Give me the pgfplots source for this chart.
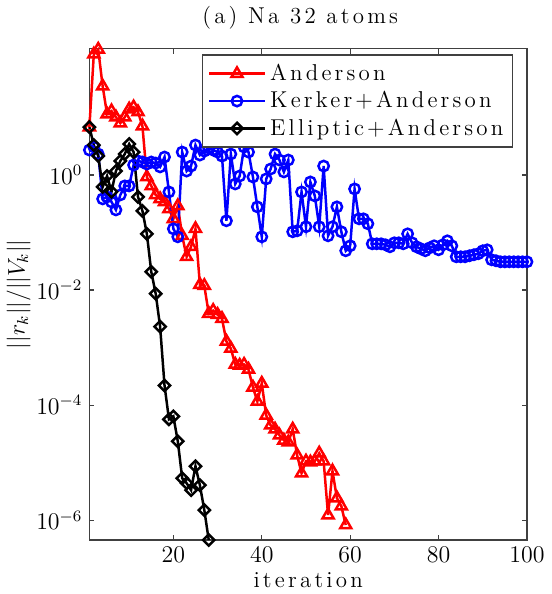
\documentclass[border=0pt]{standalone}
\usepackage{fontspec}
\usepackage{pgfplots}
\pgfplotsset{compat=1.18}
\newfontfamily\lsfont{Latin Modern Roman}[LetterSpace=14]
\newcommand{\ls}{\lsfont}
\newcommand{\fs}{\fontsize{11.5}{13}\selectfont}
\begin{document}
\begin{tikzpicture}
\begin{axis}[
  scale only axis, width=219.5pt, height=246.5pt,
  ymode=log, xmin=1, xmax=100, ymin=4.54e-7, ymax=157,
  xtick={20,40,60,80,100}, ytick={1e-6,1e-4,1e-2,1},
  yminorticks=false,
  tick align=inside, major tick length=2.5pt,
  axis line style={black!75, line width=0.6pt},
  every tick/.style={black!75, line width=0.6pt},
  clip=false,
  tick label style={font=\fs},
  label style={font=\fs},
  xlabel={\ls iteration}, ylabel={$||r_k||/||V_k||$},
  xlabel style={yshift=2pt}, ylabel style={yshift=-4pt},
  title={\ls (a) Na 32 atoms}, title style={font=\fs, xshift=-4pt},
  legend style={at={(0.968,0.988)}, anchor=north east, draw=black!75, line width=0.6pt,
    font=\fs\ls, cells={anchor=west}, row sep=0pt, inner sep=2.5pt},
  legend image code/.code={\draw[mark repeat=2,mark phase=2] plot coordinates {(0pt,0pt)(14pt,0pt)(28pt,0pt)};},
]
\addplot[red, line width=1.25pt, mark=triangle, mark size=3.2pt] coordinates {
(1,6.79)(2,125)(3,152)(4,34.9)(5,11.4)(6,12.9)(7,10.1)(8,7.96)(9,10.1)(10,13.9)
(11,15.1)(12,12.4)(13,7.07)(14,0.92)(15,0.645)(16,0.45)(17,0.384)(18,0.34)(19,0.257)(20,0.173)
(21,0.29)(22,0.0877)(23,0.0379)(24,0.0565)(25,0.116)(26,0.0124)(27,0.0119)(28,0.0039)(29,0.0044)(30,0.00375)
(31,0.00319)(32,0.00128)(33,0.000964)(34,0.000509)(35,0.00049)(36,0.000509)(37,0.000417)(38,0.000204)(39,0.000116)(40,0.000239)
(41,6.65e-5)(42,4.47e-5)(43,3.81e-5)(44,3.0e-5)(45,2.45e-5)(46,2.27e-5)(47,3.81e-5)(48,1.35e-5)(49,6.58e-6)(50,1.06e-5)
(51,1.02e-5)(52,1.06e-5)(53,1.46e-5)(54,1.06e-5)(55,1.23e-6)(56,7.13e-6)(57,2.43e-6)(58,1.76e-6)(59,8.26e-7)
};
\addlegendentry{Anderson}
\addplot[blue, line width=1.25pt, mark=o, mark size=2.6pt] coordinates {
(1,2.71)(2,3.06)(3,2.31)(4,0.384)(5,0.416)(6,0.34)(7,0.247)(8,0.45)(9,0.645)(10,0.645)
(11,1.49)(12,1.75)(13,1.68)(14,1.55)(15,1.68)(16,1.61)(17,1.38)(18,2.05)(19,0.507)(20,0.116)
(21,0.0842)(22,2.5)(23,1.17)(24,1.43)(25,3.31)(26,2.22)(27,2.6)(28,2.94)(29,2.71)(30,2.5)
(31,2.13)(32,0.16)(33,2.31)(34,0.698)(35,0.96)(36,3.06)(37,2.5)(38,0.923)(39,0.279)(40,0.0842)
(41,0.853)(42,1.27)(43,2.31)(44,1.82)(45,1.13)(46,1.82)(47,0.103)(48,0.107)(49,0.507)(50,0.126)
(51,0.756)(52,0.433)(53,0.126)(54,1.43)(55,0.0877)(56,0.126)(57,0.279)(58,0.103)(59,0.0482)(60,0.0588)
(61,0.572)(62,0.173)(63,0.173)(64,0.142)(65,0.0637)(66,0.0637)(67,0.0637)(68,0.0612)(69,0.0565)(70,0.0663)
(71,0.0663)(72,0.0637)(73,0.0949)(74,0.0663)(75,0.0565)(76,0.0522)(77,0.0482)(78,0.0543)(79,0.0588)(80,0.0501)
(81,0.0612)(82,0.0718)(83,0.0588)(84,0.0379)(85,0.0379)(86,0.0379)(87,0.0395)(88,0.0411)(89,0.0428)(90,0.0482)
(91,0.0501)(92,0.0336)(93,0.0323)(94,0.031)(95,0.031)(96,0.031)(97,0.031)(98,0.031)(99,0.031)(100,0.031)
};
\addlegendentry{Kerker+Anderson}
\addplot[black, line width=1.25pt, mark=square, mark size=2pt, mark options={rotate=45}] coordinates {
(1,6.79)(2,3.31)(3,2.13)(4,0.62)(5,0.96)(6,0.51)(7,1.17)(8,1.75)(9,2.31)(10,3.45)
(11,2.5)(12,0.416)(13,0.238)(14,0.095)(15,0.0208)(16,0.00866)(17,0.00232)(18,0.00022)(19,5.68e-5)(20,6.4e-5)
(21,2.36e-5)(22,5.38e-6)(23,4.41e-6)(24,3.34e-6)(25,8.69e-6)(26,4.07e-6)(27,1.5e-6)(28,4.54e-7)
};
\addlegendentry{Elliptic+Anderson}
\end{axis}
\end{tikzpicture}
\end{document}
